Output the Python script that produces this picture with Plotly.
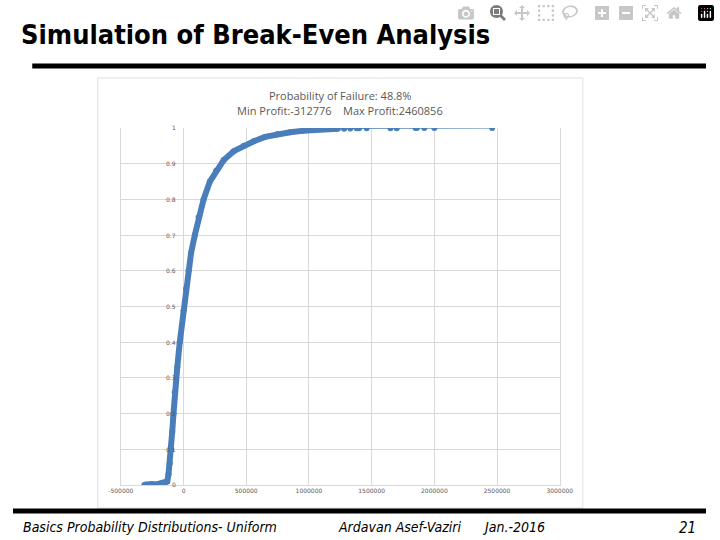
import plotly.graph_objects as go

profit = [-312776, -300000, -280000, -260000, -250000, -200000, -180000, -160000, -150000, -130000,
          -120000, -110000, -100000, -90000, -80000, -70000, -50000, -30000, 0, 20000, 40000, 60000,
          90000, 120000, 160000, 210000, 260000, 320000, 400000, 480000, 560000, 650000, 750000,
          850000, 950000, 1050000, 1150000, 1230000, 1280000, 1330000, 1380000, 1400000, 1460000,
          1650000, 1700000, 1850000, 1860000, 1920000, 2000000, 2460856]
cum_prob = [0.0, 0.001, 0.001, 0.002, 0.002, 0.003, 0.004, 0.005, 0.006, 0.01,
            0.03, 0.06, 0.1, 0.15, 0.2, 0.26, 0.33, 0.4, 0.488, 0.55, 0.6, 0.65,
            0.7, 0.75, 0.8, 0.85, 0.88, 0.91, 0.935, 0.95, 0.963, 0.975, 0.983,
            0.988, 0.992, 0.995, 0.997, 0.998, 0.998, 0.9985, 0.999, 0.999, 0.9992,
            0.9994, 0.9995, 0.9996, 0.9997, 0.9998, 0.9999, 1.0]
x_ticks = [-500000, 0, 500000, 1000000, 1500000, 2000000, 2500000, 3000000]
x_tick_labels = ["-500000", "0", "500000", "1000000", "1500000", "2000000", "2500000", "3000000"]
y_ticks = [0, 0.1, 0.2, 0.3, 0.4, 0.5, 0.6, 0.7, 0.8, 0.9, 1]
y_tick_labels = ["0", "0.1", "0.2", "0.3", "0.4", "0.5", "0.6", "0.7", "0.8", "0.9", "1"]

blue = "#4a7ebb"
fig = go.Figure()
fig.add_trace(go.Scatter(x=profit, y=cum_prob, mode="lines+markers",
                         line=dict(color=blue, width=1.2),
                         marker=dict(color=blue, size=6), showlegend=False))
fig.add_trace(go.Scatter(x=profit[:38], y=cum_prob[:38], mode="lines",
                         line=dict(color=blue, width=6), showlegend=False))

fig.update_layout(
    width=720, height=540, margin=dict(l=0, r=0, t=0, b=0),
    paper_bgcolor="white", plot_bgcolor="white",
    xaxis=dict(domain=[0.1556, 0.789], range=[-500000, 3000000], tickvals=x_ticks,
               ticktext=x_tick_labels, showgrid=True, gridcolor="#d9d9d9", zeroline=False,
               showline=True, linecolor="#d9d9d9", ticks="",
               tickfont=dict(family="DejaVu Sans", size=6, color="#595959")),
    yaxis=dict(domain=[0.1019, 0.763], range=[0, 1], tickvals=y_ticks, showticklabels=False,
               showgrid=True, gridcolor="#d9d9d9", zeroline=False, showline=True,
               linecolor="#d9d9d9", mirror=True),
    font=dict(family="Open Sans"),
)
for v, t in zip(y_ticks, y_tick_labels):
    fig.add_annotation(x=0, y=v, text=t, showarrow=False, xanchor="right", xshift=-6,
                       font=dict(family="DejaVu Sans", size=6, color="#595959"))

shapes = [
    dict(type="rect", xref="paper", yref="paper", x0=88/720, x1=592/720, y0=1-508/540, y1=1-78/540,
         line=dict(color="#e0e0e0", width=1)),
    dict(type="line", xref="paper", yref="paper", x0=20/720, x1=1, y0=1-66/540, y1=1-66/540,
         line=dict(color="black", width=5)),
    dict(type="line", xref="paper", yref="paper", x0=0, x1=1, y0=1-511/540, y1=1-511/540,
         line=dict(color="black", width=5)),
]
fig.update_layout(shapes=shapes)

def txt(x, y, s, size, xa="left", **kw):
    fig.add_annotation(xref="paper", yref="paper", x=x/720, y=1-y/540, text=s, showarrow=False,
                       xanchor=xa, yanchor="middle", font=dict(size=size, **kw))

narrow = "Liberation Sans Narrow, DejaVu Sans Condensed, sans-serif"
txt(6, 34, "<b>Simulation of Break-Even Analysis</b>", 27, family=narrow, color="black")
txt(340, 95, "Probability of Failure: 48.8%", 11, xa="center", family="Open Sans", color="#595959")
txt(340, 110, "Min Profit:-312776&nbsp;&nbsp;&nbsp;&nbsp;Max Profit:2460856", 11, xa="center", family="Open Sans", color="#595959")
txt(8, 527, "<i>Basics Probability Distributions- Uniform</i>", 14, family=narrow, color="black")
txt(336, 527, "<i>Ardavan Asef-Vaziri</i>", 14, family=narrow, color="black")
txt(485, 527, "<i>Jan.-2016</i>", 14, family=narrow, color="black")
txt(712, 528, "<i>21</i>", 15, xa="right", family=narrow, color="black")

fig.write_html("out.html")
with open("out.html", encoding="utf-8") as f:
    html = f.read()
html = html.replace("<head>", "<head><style>html,body{margin:0;padding:0;overflow:hidden}</style>", 1)
with open("out.html", "w", encoding="utf-8") as f:
    f.write(html)
